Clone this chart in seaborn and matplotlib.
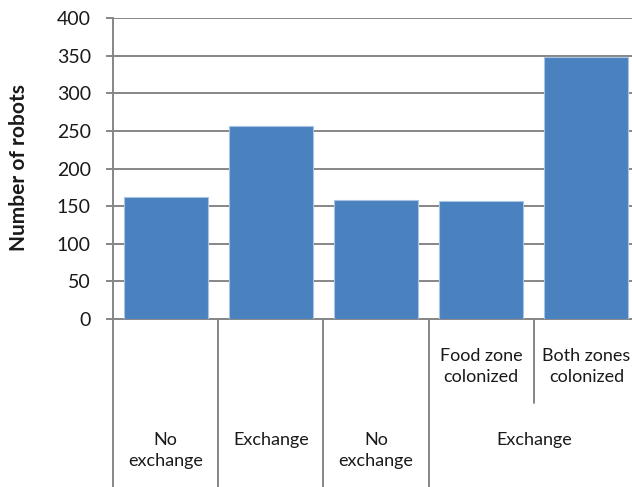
import matplotlib
matplotlib.use("Agg")
import matplotlib.pyplot as plt
import matplotlib.transforms as mtransforms
import pandas as pd
import seaborn as sns

# Data
bar_ids = ["A", "B", "C", "D", "E"]
robots = [162, 256, 158, 157, 348]
inner_labels = ["", "", "", "Food zone\ncolonized", "Both zones\ncolonized"]
outer_labels = ["No\nexchange", "Exchange", "No\nexchange", "Exchange"]
outer_spans = [(0, 0), (1, 1), (2, 2), (3, 4)]
yticks = [0, 50, 100, 150, 200, 250, 300, 350, 400]

df = pd.DataFrame({"bar": bar_ids, "robots": robots})

sns.set_style("white")
plt.rcParams["font.family"] = ["Lato", "DejaVu Sans"]

GRAY = "#868686"
BLUE = "#4a81bf"
TEXT = "#1a1a1a"

fig = plt.figure(figsize=(6.32, 4.87), dpi=100)
ax = fig.add_axes([113 / 632, 168 / 487, 526 / 632, 301 / 487])

sns.barplot(data=df, x="bar", y="robots", color=BLUE, saturation=1,
            width=0.8, edgecolor="#a9c3e3", linewidth=0.8, ax=ax, zorder=3)

ax.set_xlim(-0.5, len(bar_ids) - 0.5)
ax.set_ylim(0, 400)
ax.set_yticks(yticks)
ax.set_yticklabels([str(t) for t in yticks], fontsize=14, color=TEXT)
ax.yaxis.grid(True, color=GRAY, linewidth=1.4, zorder=0)
ax.set_axisbelow(True)
ax.tick_params(axis="y", length=5, width=1.4, color=GRAY, pad=11, left=True)
ax.set_xticks([])
ax.set_xlabel("")
ax.set_ylabel("")
fig.text(19 / 632, 1 - 168 / 487, "Number of robots", rotation=90,
         ha="center", va="center", fontsize=15, fontweight="bold", color=TEXT)

for side in ["top", "right"]:
    ax.spines[side].set_visible(False)
for side in ["left", "bottom"]:
    ax.spines[side].set_color(GRAY)
    ax.spines[side].set_linewidth(1.4)

# multi-level category axis below the plot
trans = mtransforms.blended_transform_factory(ax.transData, ax.transAxes)
bottom = -0.56
mid = -0.28
for x in [-0.5, 0.5, 1.5, 2.5]:
    ax.plot([x, x], [0, bottom], transform=trans, color=GRAY, lw=1.4,
            clip_on=False)
ax.plot([3.5, 3.5], [0, mid], transform=trans, color=GRAY, lw=1.4,
        clip_on=False)

for i, lab in enumerate(inner_labels):
    if lab:
        ax.text(i, -0.097, lab, transform=trans, ha="center", va="top",
                fontsize=13, color=TEXT, linespacing=1.4)

for lab, (a, b) in zip(outer_labels, outer_spans):
    ax.text((a + b) / 2, -0.374, lab, transform=trans, ha="center", va="top",
            fontsize=13, color=TEXT, linespacing=1.4)

fig.savefig("out.png", dpi=100)
